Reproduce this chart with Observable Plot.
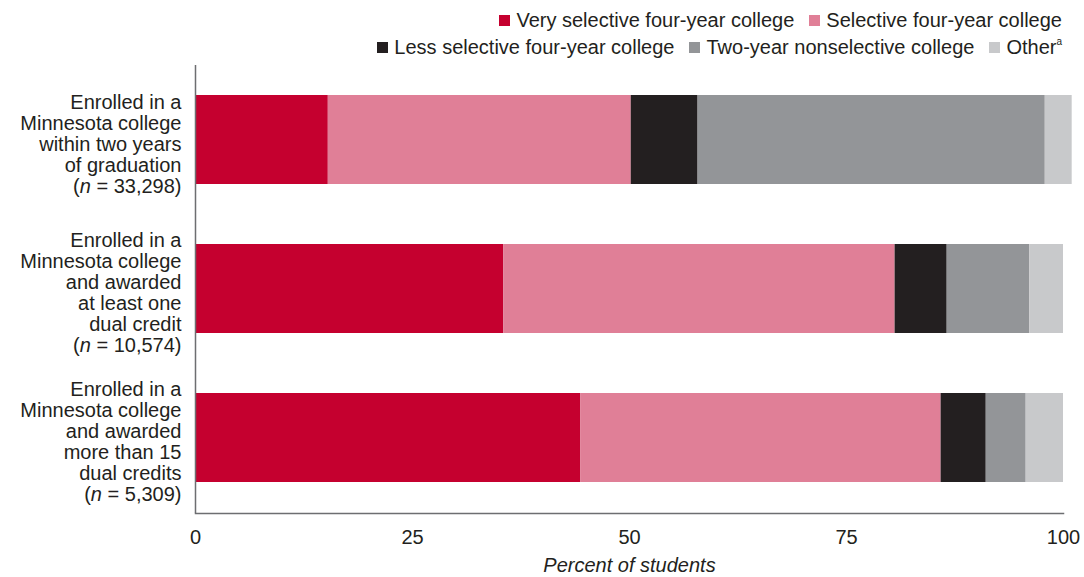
<!DOCTYPE html>
<html>
<head>
<meta charset="utf-8">
<script src="https://cdn.jsdelivr.net/npm/d3@7"></script>
<script src="https://cdn.jsdelivr.net/npm/@observablehq/plot@0.6"></script>
<style>
  html, body { margin: 0; padding: 0; background: #fff; }
  body { width: 1084px; font-family: "Liberation Sans", Arial, sans-serif; color: #231F20; }
  #legend { height: 60px; box-sizing: border-box; padding-top: 7px; padding-right: 22px; font-size: 20px; }
  .row { display: flex; justify-content: flex-end; align-items: center; height: 27px; }
  .item { display: flex; align-items: center; margin-left: 15px; white-space: nowrap; }
  .sw { width: 11px; height: 11px; margin-right: 6px; display: inline-block; }
  .sup { font-size: 10px; position: relative; top: -6px; }
  svg { display: block; }
</style>
</head>
<body>
<div id="legend"></div>
<div id="chart"></div>
<script>
const categories = [
  "Enrolled in a\nMinnesota college\nwithin two years\nof graduation\n(n = 33,298)",
  "Enrolled in a\nMinnesota college\nand awarded\nat least one\ndual credit\n(n = 10,574)",
  "Enrolled in a\nMinnesota college\nand awarded\nmore than 15\ndual credits\n(n = 5,309)"
];
const seriesNames = [
  "Very selective four-year college",
  "Selective four-year college",
  "Less selective four-year college",
  "Two-year nonselective college",
  "Other"
];
const veryValues = [15.3, 35.5, 44.4];
const selectiveValues = [34.9, 45.1, 41.5];
const lessValues = [7.7, 6.0, 5.2];
const twoYearValues = [40.0, 9.5, 4.6];
const otherValues = [3.1, 3.9, 4.3];
const colors = ["#C5002F", "#E07F97", "#231F20", "#939598", "#C8C9CB"];
const xTicks = [0, 25, 50, 75, 100];

const seriesValues = [veryValues, selectiveValues, lessValues, twoYearValues, otherValues];
const rows = categories.flatMap((c, i) =>
  seriesNames.map((s, j) => ({category: c, type: s, value: seriesValues[j][i]}))
);

// Legend (HTML)
const legendRows = [[0, 1], [2, 3, 4]];
const legend = document.getElementById("legend");
legendRows.forEach(r => {
  const row = document.createElement("div");
  row.className = "row";
  r.forEach(j => {
    const it = document.createElement("div");
    it.className = "item";
    it.innerHTML = `<span class="sw" style="background:${colors[j]}"></span>${seriesNames[j]}${seriesNames[j] === "Other" ? '<span class="sup">a</span>' : ""}`;
    row.appendChild(it);
  });
  legend.appendChild(row);
});

const FONT = "'Liberation Sans', Arial, sans-serif";
const chart = Plot.plot({
  width: 1084,
  height: 517,
  marginLeft: 195,
  marginRight: 21,
  marginTop: 5,
  marginBottom: 64,
  style: {fontFamily: FONT, fontSize: "20px", color: "#231F20", background: "#fff"},
  x: {domain: [0, 100], ticks: xTicks},
  y: {domain: categories, paddingInner: 0.4, paddingOuter: 0.2},
  color: {domain: seriesNames, range: colors},
  marks: [
    Plot.barX(rows, {x: "value", y: "category", fill: "type", order: seriesNames}),
    Plot.text(categories, {y: d => d, frameAnchor: "left", textAnchor: "end", dx: -14, dy: 4, lineHeight: 1.05, fontSize: 20, fill: "#231F20"}),
    Plot.ruleX([0], {stroke: "#6D6E71", strokeWidth: 1.5}),
    Plot.frame({anchor: "bottom", stroke: "#6D6E71", strokeWidth: 1.5}),
    Plot.axisX({ticks: xTicks, tickSize: 0, tickPadding: 16, fontSize: 20, label: "Percent of students", labelAnchor: "center", labelArrow: "none", labelOffset: 58}),
    Plot.axisY({ticks: [], label: null})
  ]
});
document.getElementById("chart").appendChild(chart);

// Italicize "n" in category labels and axis label
chart.querySelectorAll("tspan").forEach(t => {
  const s = t.textContent;
  if (s.startsWith("(n = ")) {
    t.textContent = "(";
    const it = document.createElementNS("http://www.w3.org/2000/svg", "tspan");
    it.setAttribute("font-style", "italic");
    it.textContent = "n";
    t.appendChild(it);
    t.appendChild(document.createTextNode(s.slice(2)));
  }
});
chart.querySelectorAll('g[aria-label="x-axis label"] text').forEach(t => t.setAttribute("font-style", "italic"));
</script>
</body>
</html>
